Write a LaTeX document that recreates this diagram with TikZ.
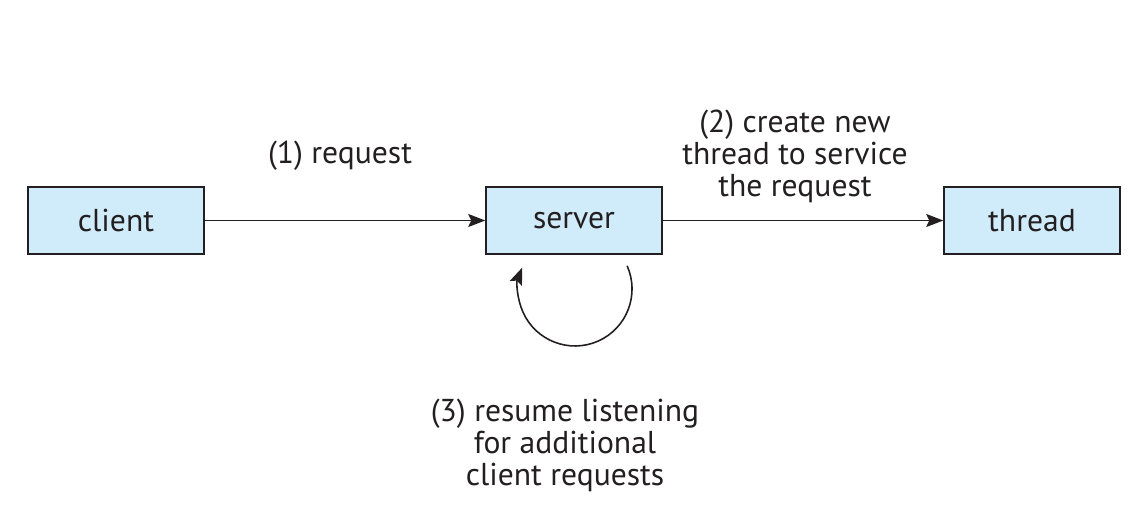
\documentclass[tikz,border=0pt]{standalone}
\usepackage{fontspec}
\setmainfont{PT Sans}
\usetikzlibrary{arrows.meta, positioning}
\definecolor{boxfill}{RGB}{208,236,250}
\definecolor{ink}{RGB}{35,31,32}

\begin{document}
\begin{tikzpicture}[x=0.02cm, y=-0.02cm, line width=0.9pt, draw=ink, text=ink,
		every node/.style={font=\fontsize{18}{18.2}\selectfont},
		procbox/.style={draw=ink, fill=boxfill, minimum width=3.52cm, minimum height=1.34cm, inner sep=0pt},
		note/.style={align=center, inner sep=0pt},
		link/.style={-{Stealth[length=3.4mm, width=2.6mm, inset=0.6mm]}, ink}]
				\useasboundingbox (0,0) rectangle (1135,531);

				\node[procbox] (client) at (116,220.5) {client};
				\node[procbox] (server) at (574,220.5) {server};
				\node[procbox] (thread) at (1032,220.5) {thread};

				\draw[link] (client) -- (server);
				\draw[link] (server) -- (thread);

				\node[note] (req) at (340,156) {(1) request};
				\node[note] (create) at (795,156) {(2) create new\\thread to service\\the request};

				% loop under the server
				\coordinate (loopstart) at (627.1,265.8);
				\draw[link] (loopstart) arc[start angle=24, end angle=-202, radius=1.14cm];

				\node[note] (resume) at (565,445) {(3) resume listening\\for additional\\client requests};
			\end{tikzpicture}
\end{document}
